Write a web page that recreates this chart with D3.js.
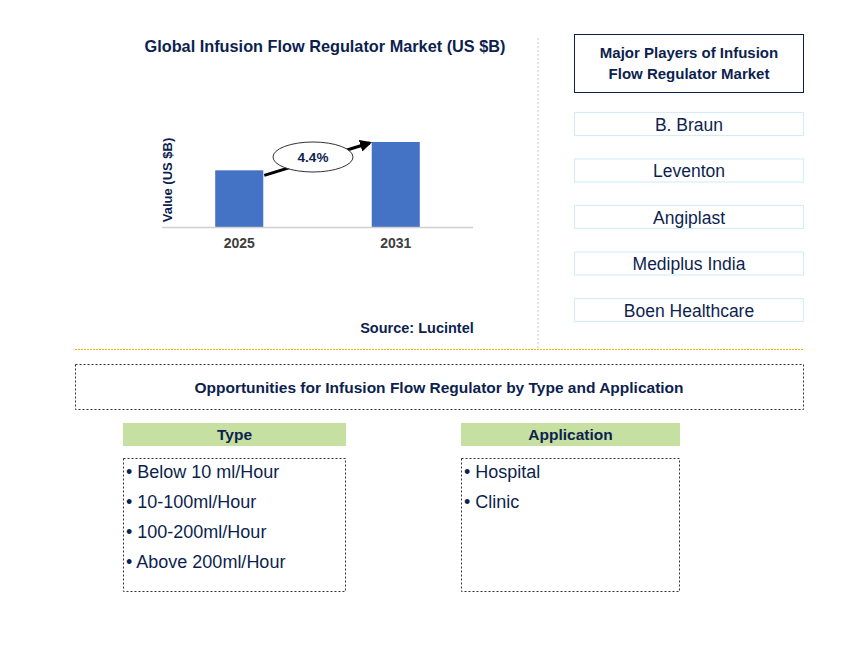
<!DOCTYPE html>
<html><head><meta charset="utf-8">
<script src="https://cdn.jsdelivr.net/npm/d3@7"></script>
<style>body{margin:0;background:#fff}text{font-family:Arial,"Liberation Sans",sans-serif}</style>
</head><body><svg id="c" width="868" height="652"></svg>
<script>
// 차트 데이터
const years = ["2025", "2031"];
const values = [2.0, 3.0];
const cagr = "4.4%";
const players = ["B. Braun", "Leventon", "Angiplast", "Mediplus India", "Boen Healthcare"];
const types = ["Below 10 ml/Hour", "10-100ml/Hour", "100-200ml/Hour", "Above 200ml/Hour"];
const apps = ["Hospital", "Clinic"];

const navy = "#0d1f4f";
const svg = d3.select("#c");

svg.append("text").attr("x", 325).attr("y", 52).attr("text-anchor", "middle")
   .attr("font-size", 16.3).attr("font-weight", "bold").attr("fill", navy)
   .text("Global Infusion Flow Regulator Market (US $B)");

// 막대 그래프
const x = d3.scaleBand().domain(years).range([162, 473]).paddingInner(0.693).paddingOuter(0.34);
const y = d3.scaleLinear().domain([0, 3]).range([227, 142]);
svg.selectAll("rect.bar").data(values).enter().append("rect").attr("class", "bar")
   .attr("x", (d, i) => x(years[i])).attr("width", x.bandwidth())
   .attr("y", d => y(d)).attr("height", d => y(0) - y(d)).attr("fill", "#4472c4");
svg.append("line").attr("x1", 162).attr("x2", 473).attr("y1", 227.5).attr("y2", 227.5)
   .attr("stroke", "#d0d0d0").attr("stroke-width", 1.5);
years.forEach(t => svg.append("text").attr("x", x(t) + x.bandwidth() / 2).attr("y", 248)
   .attr("text-anchor", "middle").attr("font-size", 14).attr("font-weight", "bold")
   .attr("fill", "#404040").text(t));
svg.append("text").attr("transform", "translate(172,180) rotate(-90)").attr("text-anchor", "middle")
   .attr("font-size", 13).attr("font-weight", "bold").attr("fill", navy).text("Value (US $B)");

// 성장률 화살표
svg.append("defs").append("marker").attr("id", "ah").attr("viewBox", "0 0 10 10")
   .attr("refX", 8).attr("refY", 5).attr("markerWidth", 4).attr("markerHeight", 4).attr("orient", "auto")
   .append("path").attr("d", "M0,0L10,5L0,10z").attr("fill", "#000");
const x1 = x(years[0]) + x.bandwidth(), x2 = x(years[1]);
svg.append("line").attr("x1", x1 + 1).attr("y1", y(values[0]) + 5).attr("x2", x2 - 2).attr("y2", y(values[1]) + 1)
   .attr("stroke", "#000").attr("stroke-width", 3).attr("marker-end", "url(#ah)");
svg.append("ellipse").attr("cx", 313).attr("cy", 157).attr("rx", 40).attr("ry", 15)
   .attr("fill", "#fff").attr("stroke", "#333").attr("stroke-width", 1);
svg.append("text").attr("x", 313).attr("y", 162).attr("text-anchor", "middle")
   .attr("font-size", 13.5).attr("font-weight", "bold").attr("fill", navy).text(cagr);

svg.append("text").attr("x", 417).attr("y", 333).attr("text-anchor", "middle")
   .attr("font-size", 14.5).attr("font-weight", "bold").attr("fill", navy).text("Source: Lucintel");

// 구분선
svg.append("line").attr("x1", 538).attr("x2", 538).attr("y1", 38).attr("y2", 348)
   .attr("stroke", "#c8c8c8").attr("stroke-dasharray", "2,2");
svg.append("line").attr("x1", 75).attr("x2", 803).attr("y1", 349.5).attr("y2", 349.5)
   .attr("stroke", "#f2b800").attr("stroke-dasharray", "2,1");

// 주요 기업
svg.append("rect").attr("x", 574.5).attr("y", 34.5).attr("width", 229).attr("height", 58)
   .attr("fill", "#fff").attr("stroke", navy).attr("stroke-width", 1);
["Major Players of Infusion", "Flow Regulator Market"].forEach((t, i) =>
  svg.append("text").attr("x", 689).attr("y", 58 + i * 21).attr("text-anchor", "middle")
     .attr("font-size", 15).attr("font-weight", "bold").attr("fill", navy).text(t));
players.forEach((p, i) => {
  const yy = 112.5 + i * 46.5;
  svg.append("rect").attr("x", 574.5).attr("y", yy).attr("width", 229).attr("height", 23)
     .attr("fill", "#fff").attr("stroke", "#d5eef5").attr("stroke-width", 1.2);
  svg.append("text").attr("x", 689).attr("y", yy + 18).attr("text-anchor", "middle")
     .attr("font-size", 17.5).attr("fill", navy).text(p);
});

// 기회 박스
svg.append("rect").attr("x", 75.5).attr("y", 364.5).attr("width", 728).attr("height", 45)
   .attr("fill", "none").attr("stroke", "#333").attr("stroke-dasharray", "2,2");
svg.append("text").attr("x", 439).attr("y", 393).attr("text-anchor", "middle")
   .attr("font-size", 15.5).attr("font-weight", "bold").attr("fill", navy)
   .text("Opportunities for Infusion Flow Regulator by Type and Application");

function list(x0, w, title, items) {
  svg.append("rect").attr("x", x0).attr("y", 423).attr("width", w).attr("height", 23).attr("fill", "#c5e0a0");
  svg.append("text").attr("x", x0 + w / 2).attr("y", 440).attr("text-anchor", "middle")
     .attr("font-size", 15.5).attr("font-weight", "bold").attr("fill", navy).text(title);
  svg.append("rect").attr("x", x0 + 0.5).attr("y", 458.5).attr("width", w - 1).attr("height", 133)
     .attr("fill", "none").attr("stroke", "#333").attr("stroke-dasharray", "2,2");
  items.forEach((t, i) => svg.append("text").attr("x", x0 + 3).attr("y", 478 + i * 30)
     .attr("font-size", 18).attr("fill", navy).text("\u2022 " + t));
}
list(123, 223, "Type", types);
list(461, 219, "Application", apps);
</script></body></html>
